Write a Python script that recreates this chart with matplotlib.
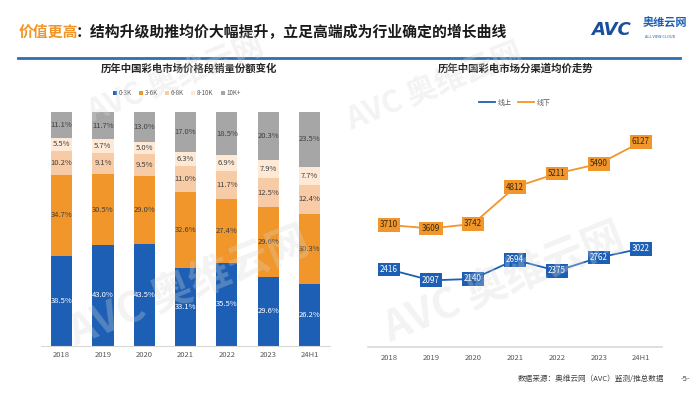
import matplotlib.pyplot as plt
import numpy as np

plt.rcParams['font.family'] = ['Noto Sans CJK SC', 'DejaVu Sans']

years = ['2018', '2019', '2020', '2021', '2022', '2023', '24H1']
seg_names = ['0-3K', '3-6K', '6-8K', '8-10K', '10K+']
share_0_3k = [38.5, 43.0, 43.5, 33.1, 35.5, 29.6, 26.2]
share_3_6k = [34.7, 30.5, 29.0, 32.6, 27.4, 29.6, 30.3]
share_6_8k = [10.2, 9.1, 9.5, 11.0, 11.7, 12.5, 12.4]
share_8_10k = [5.5, 5.7, 5.0, 6.3, 6.9, 7.9, 7.7]
share_10k = [11.1, 11.7, 13.0, 17.0, 18.5, 20.3, 23.5]

online = [2416, 2097, 2140, 2694, 2375, 2762, 3022]
offline = [3710, 3609, 3742, 4812, 5211, 5490, 6127]

blue = '#1c5fb4'
orange = '#f0962a'
seg_colors = [blue, orange, '#f8cba7', '#fde9d6', '#a6a6a6']
text_colors = ['white', '#404040', '#404040', '#404040', '#404040']

fig = plt.figure(figsize=(7, 3.94), dpi=100)

# header
fig.text(0.027, 0.918, '价值更高', color=orange, fontsize=10.7, fontweight='bold', va='center')
fig.text(0.108, 0.918, '：结构升级助推均价大幅提升，立足高端成为行业确定的增长曲线',
         color='#1a1a1a', fontsize=10.7, fontweight='bold', va='center')
fig.add_artist(plt.Line2D([0.026, 0.972], [0.853, 0.853], color='#2e6fb0', lw=2))
fig.text(0.845, 0.925, 'AVC', color='#1b4f9c', fontsize=13, fontweight='bold',
         fontstyle='italic', va='center', family='DejaVu Sans')
fig.text(0.918, 0.94, '奥维云网', color='#1b5fb4', fontsize=8, fontweight='bold', va='center')
fig.text(0.921, 0.905, 'ALL VIEW CLOUD', color='#1b5fb4', fontsize=2.8, va='center')

# left: stacked bars
ax1 = fig.add_axes([0.0586, 0.1226, 0.413, 0.593])
x = np.arange(len(years))
shares = [share_0_3k, share_3_6k, share_6_8k, share_8_10k, share_10k]
bottom = np.zeros(len(years))
for vals, name, c, tc in zip(shares, seg_names, seg_colors, text_colors):
    vals = np.array(vals)
    ax1.bar(x, vals, 0.51, bottom=bottom, color=c, label=name, zorder=2)
    for xi, b, v in zip(x, bottom, vals):
        ax1.text(xi, b + v / 2, f'{v:.1f}%', ha='center', va='center', fontsize=5.5,
                 color=tc, zorder=3)
    bottom += vals
ax1.set_xlim(-0.5, 6.5)
ax1.set_ylim(0, 100)
ax1.set_xticks(x, years)
ax1.tick_params(axis='x', length=0, labelsize=5.5, labelcolor='#595959', pad=4)
ax1.set_yticks([])
for s in ['top', 'right', 'left']:
    ax1.spines[s].set_visible(False)
ax1.spines['bottom'].set_color('#d9d9d9')
ax1.patch.set_alpha(0)
ax1.legend(loc='center', bbox_to_anchor=(0.47, 1.08), ncol=5, frameon=False, fontsize=4.5,
           handlelength=0.6, handleheight=0.6, handletextpad=0.3, columnspacing=1.2,
           labelcolor='#595959')
fig.text(0.27, 0.825, '历年中国彩电市场价格段销量份额变化', ha='center', va='center',
         fontsize=7.5, fontweight='bold', color='#262626')

# right: lines
ax2 = fig.add_axes([0.5257, 0.1193, 0.42, 0.5964])
ax2.plot(x, online, color=blue, lw=1.3, label='线上', zorder=2)
ax2.plot(x, offline, color=orange, lw=1.3, label='线下', zorder=2)
for xi, v in zip(x, online):
    ax2.text(xi, v, str(v), ha='center', va='center', fontsize=5.8, color='white', zorder=3,
             bbox=dict(boxstyle='square,pad=0.3', fc=blue, ec='none'))
for xi, v in zip(x, offline):
    ax2.text(xi, v, str(v), ha='center', va='center', fontsize=5.8, color='#3a2a10', zorder=3,
             bbox=dict(boxstyle='square,pad=0.3', fc=orange, ec='none'))
ax2.set_xlim(-0.5, 6.5)
ax2.set_ylim(157, 7000)
ax2.set_xticks(x, years)
ax2.tick_params(axis='x', length=0, labelsize=5.5, labelcolor='#595959', pad=5)
ax2.set_yticks([])
for s in ['top', 'right', 'left']:
    ax2.spines[s].set_visible(False)
ax2.spines['bottom'].set_color('#d9d9d9')
ax2.spines['bottom'].set_linewidth(1.2)
ax2.patch.set_alpha(0)
ax2.legend(loc='center', bbox_to_anchor=(0.5, 1.04), ncol=2, frameon=False, fontsize=5,
           handlelength=2.2, handletextpad=0.4, columnspacing=1.0, labelcolor='#595959')
fig.text(0.737, 0.825, '历年中国彩电市场分渠道均价走势', ha='center', va='center',
         fontsize=7.5, fontweight='bold', color='#262626')

# watermarks, drawn faintly over everything
for (wx, wy, s) in [(0.25, 0.8, 22), (0.27, 0.27, 30), (0.62, 0.78, 22), (0.72, 0.28, 30)]:
    fig.text(wx, wy, 'AVC 奥维云网', color='#d8d8d8', fontsize=s, fontweight='bold',
             rotation=22, ha='center', va='center', alpha=0.3, zorder=5)

# footer
fig.text(0.74, 0.038, '数据来源：奥维云网（AVC）监测/推总数据', fontsize=5.5, color='#404040', va='center')
fig.text(0.973, 0.038, '-5-', fontsize=5.5, color='#404040', va='center')

fig.savefig('out.png', dpi=100)
